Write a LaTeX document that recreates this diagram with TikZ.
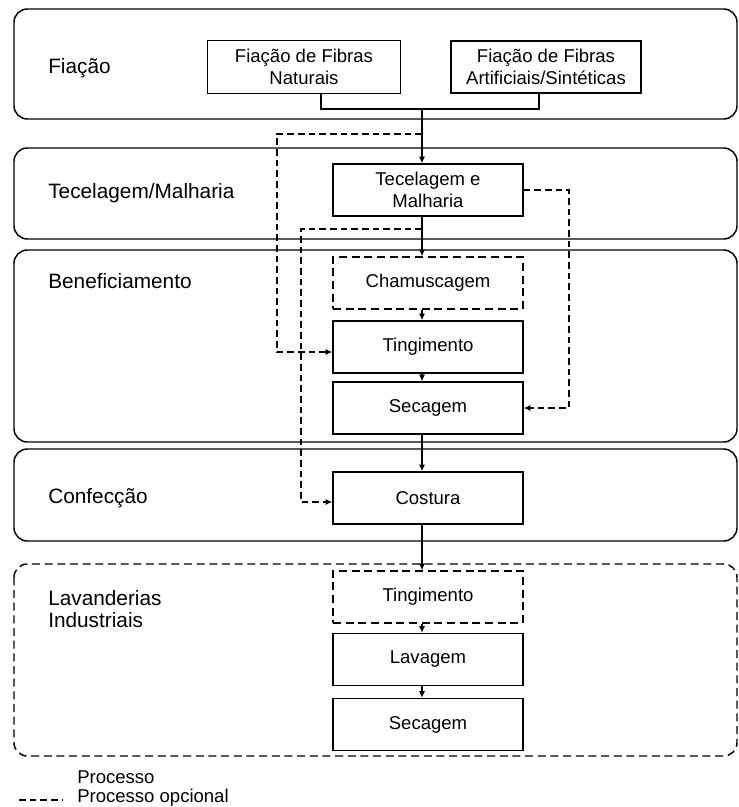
\documentclass[tikz,border=0pt]{standalone}
\usepackage{fontspec}
\setmainfont{Liberation Sans}
\usetikzlibrary{arrows.meta}
\begin{document}
\begin{tikzpicture}[x=0.75pt,y=-0.75pt,
  lane/.style={draw, line width=1.1pt, rounded corners=10pt},
  optlane/.style={lane, dash pattern=on 6pt off 3.5pt},
  proc/.style={draw, line width=1.1pt, minimum width=142.5pt, minimum height=39pt,
    align=center, inner sep=0pt, font=\fontsize{13.9}{16.5}\selectfont},
  optproc/.style={proc, dash pattern=on 6pt off 3.5pt},
  lanelabel/.style={anchor=west, align=left, inner sep=0pt, font=\fontsize{15.6}{18}\selectfont},
  legtext/.style={anchor=west, inner sep=0pt, font=\fontsize{13.9}{16}\selectfont},
  link/.style={line width=0.85pt},
  flow/.style={link, -{Latex[length=5pt,width=4.6pt]}},
  optlink/.style={link, dash pattern=on 5pt off 3pt},
  optflow/.style={flow, dash pattern=on 5pt off 3pt},
]
\useasboundingbox (0,0) rectangle (739,807);

% stage lanes
\draw[lane]    (14,9)   rectangle (737,119);
\draw[lane]    (14,148) rectangle (737,239);
\draw[lane]    (14,250) rectangle (737,442);
\draw[lane]    (14,449) rectangle (737,541);
\draw[optlane] (14,564) rectangle (737,756);

% stage names
\node[lanelabel] (lFia) at (48,68)  {Fiação};
\node[lanelabel] (lTec) at (48,193) {Tecelagem/Malharia};
\node[lanelabel] (lBen) at (48,281) {Beneficiamento};
\node[lanelabel] (lCon) at (48,498) {Confecção};
\node[lanelabel] (lLav) at (48,609) {Lavanderias\\[-1.5pt]Industriais};

% processes
\node[proc, minimum width=144.75pt, minimum height=39.75pt] (fnat) at (304,67) {Fiação de Fibras\\Naturais};
\node[proc] (fart) at (546,67) {Fiação de Fibras\\Artificiais/Sintéticas};
\node[proc] (tec)  at (428,190) {Tecelagem e\\Malharia};
\node[optproc] (cham) at (428,283) {Chamuscagem};
\node[proc] (ting) at (428,347) {Tingimento};
\node[proc] (sec)  at (428,408) {Secagem};
\node[proc] (cost) at (428,498) {Costura};
\node[optproc] (ting2) at (428,597) {Tingimento};
\node[proc] (lav)  at (428,659.5) {Lavagem};
\node[proc] (sec2) at (428,724.5) {Secagem};

% main flow line
\coordinate (sp) at (422,0);
\coordinate (join) at (422,109);
\draw[link] ([xshift=12.75pt]fnat.south) |- (join) -| ([xshift=-5.25pt]fart.south);
\draw[flow] (join) -- (tec.north -| sp);
\draw[flow] (tec.south -| sp) -- (cham.north -| sp);
\draw[flow] (cham.south -| sp) -- (ting.north -| sp);
\draw[flow] (ting.south -| sp) -- (sec.north -| sp);
\draw[flow] (sec.south -| sp) -- (cost.north -| sp);
\draw[flow] (cost.south -| sp) -- (ting2.north -| sp);
\draw[flow] (ting2.south -| sp) -- (lav.north -| sp);
\draw[flow] (lav.south -| sp) -- (sec2.north -| sp);

% optional routes
\coordinate (b1) at (422,134);
\coordinate (b2) at (422,229);
\draw[optflow] (b1) -- (277,134) |- ([yshift=-3.75pt]ting.west);
\draw[optflow] (tec.east) -- (569,190) |- (sec.east);
\draw[optflow] (b2) -- (301,229) |- ([yshift=-3pt]cost.west);

% legend
\node[legtext] (legA) at (77,777) {Processo};
\node[legtext] (legB) at (77,798) {Processo opcional};
\coordinate (legL) at (19,800);
\draw[optlink, line width=1.1pt] (legL) -- (62,800);
\end{tikzpicture}
\end{document}
